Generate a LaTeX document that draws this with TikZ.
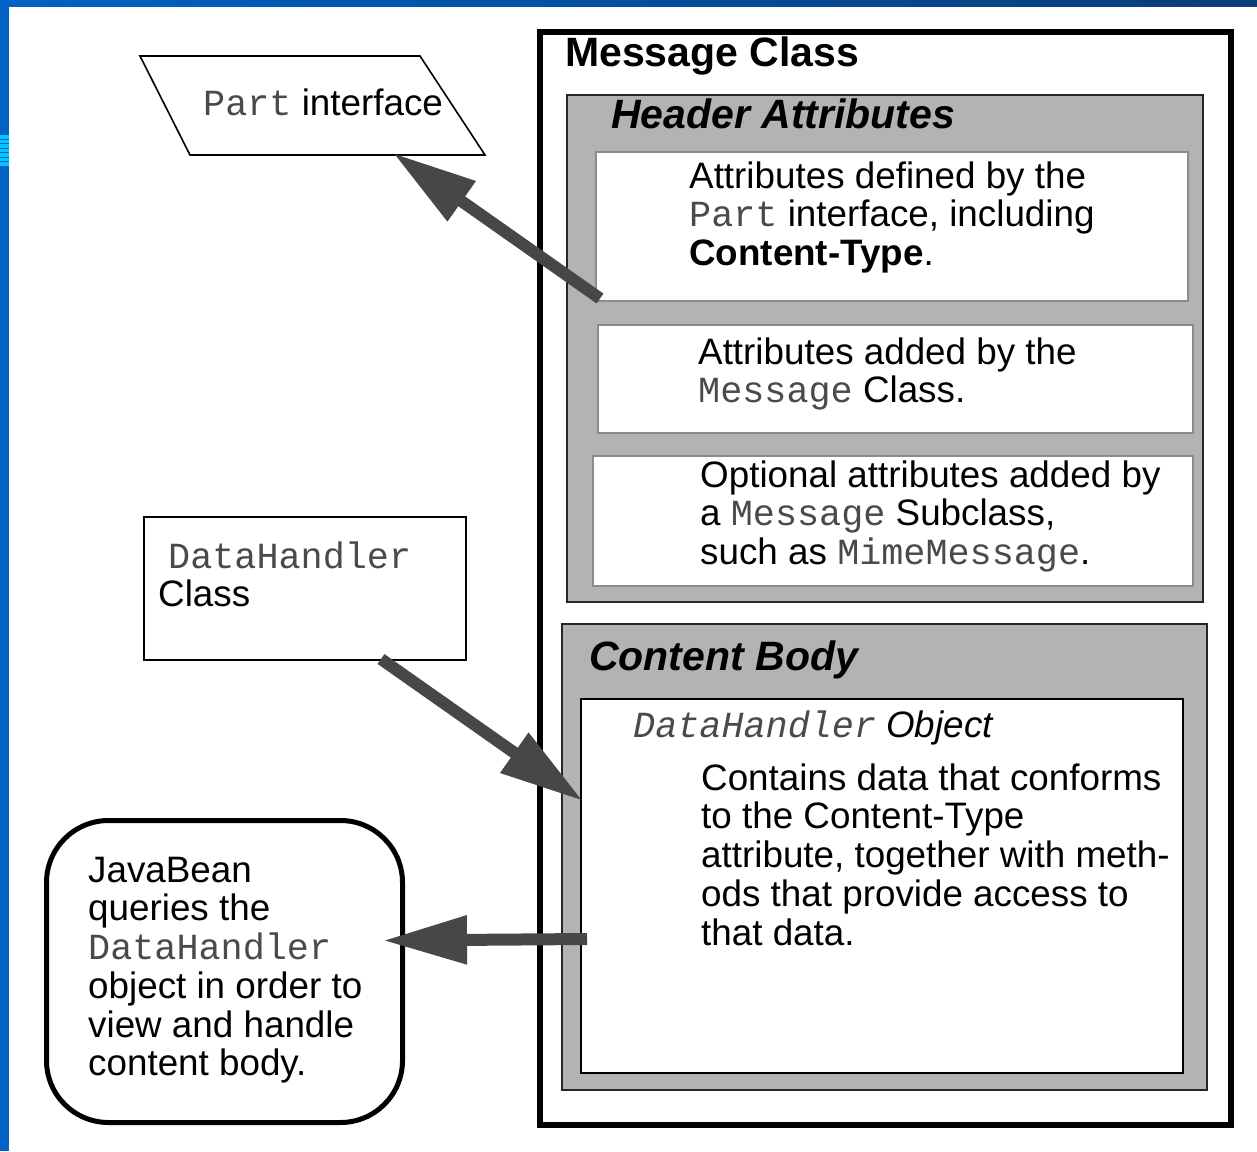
\documentclass[tikz,border=0pt]{standalone}
\usepackage{fontspec}
\setmainfont{Liberation Sans}
\setmonofont{Liberation Mono}
\usetikzlibrary{arrows.meta,calc}
\definecolor{bandL}{HTML}{0062C4}
\definecolor{bandR}{HTML}{0A3C78}
\definecolor{stripe}{HTML}{00C8FF}
\definecolor{boxgray}{HTML}{B3B3B3}
\definecolor{arrowgray}{HTML}{474747}
\definecolor{monogray}{HTML}{4A4A4A}
\definecolor{thinedge}{HTML}{8C8C8C}
\newcommand{\mono}[1]{{\ttfamily\color{monogray}#1}}
\tikzset{
  body/.style={font=\fontsize{36.8}{38.7}\selectfont, align=left, inner sep=0pt, anchor=north west},
  heading/.style={font=\fontsize{41}{45}\selectfont\bfseries, inner sep=0pt, anchor=base west},
  bigarrow/.style={draw=arrowgray, line width=12pt, -{Triangle[length=84pt,width=46pt]}, arrowgray},
  whitebox/.style={draw=thinedge, line width=1.5pt, fill=white},
  graybox/.style={draw=black!85, line width=2pt, fill=boxgray},
}
\begin{document}
\begin{tikzpicture}[x=1pt,y=-1pt]
\useasboundingbox (0,0) rectangle (1257,1151);
\fill[white] (0,0) rectangle (1257,1151);
% slide frame
\shade[left color=bandL, right color=bandR] (0,0) rectangle (1257,6);
\fill[bandL] (0,0) rectangle (9,1151);
\fill[stripe] (0,135) rectangle (9,167);
\foreach \yy in {138.5,142.5,147.5,152,157,161,165.5}
  \fill[bandL] (0,\yy) rectangle (9,\yy+1.2);

% Message class container
\draw[line width=5.5pt] (540,32) rectangle (1231,1125);
\node[heading] (title) at (565,66) {Message Class};

% header attributes
\draw[graybox] (567,95) rectangle (1203,602);
\node[heading, font=\fontsize{41}{45}\selectfont\bfseries\itshape] (hdr) at (611,128) {Header Attributes};
\node[whitebox, minimum width=592pt, minimum height=149pt, anchor=north west, inner sep=0pt] (b1) at (595,151) {};
\node[whitebox, minimum width=595pt, minimum height=108pt, anchor=north west, inner sep=0pt] (b2) at (597,324) {};
\node[whitebox, minimum width=600pt, minimum height=130pt, anchor=north west, inner sep=0pt] (b3) at (592,455) {};
\node[body] (t1) at (689,188-27.09) {\strut Attributes defined by the\\\mono{Part} interface, including\\\textbf{Content-Type}.};
\node[body] (t2) at (698,364-27.09) {\strut Attributes added by the\\\mono{Message} Class.};
\node[body] (t3) at (700,487-27.09) {\strut Optional attributes added by\\a \mono{Message} Subclass,\\such as \mono{MimeMessage}.};

% content body
\draw[graybox] (562,624) rectangle (1207,1090);
\node[heading, font=\fontsize{41}{45}\selectfont\bfseries\itshape] (cb) at (589,670) {Content Body};
\node[draw=black, line width=2pt, fill=white, minimum width=602pt, minimum height=374pt, anchor=north west, inner sep=0pt] (obj) at (580,698) {};
\node[body, anchor=base west] (objt) at (633,737) {\mono{\itshape DataHandler} \itshape Object};
\node[body] (t4) at (701,790-27.09) {\strut Contains data that conforms\\to the Content-Type\\attribute, together with meth-\\ods that provide access to\\that data.};

% Part interface parallelogram
\draw[line width=1.6pt] (140,56) coordinate (p1) -- (420,56) coordinate (p2) -- (485,155) coordinate (p3) -- (190,155) coordinate (p4) -- cycle;
\node[body] (part) at (203,115-27.09) {\strut\mono{Part} interface};
\coordinate (partin) at (393,153);

% DataHandler class box
\node[draw=black, line width=2pt, minimum width=322pt, minimum height=143pt, anchor=north west, inner sep=0pt] (dh) at (143,516) {};
\node[body] (dht) at (158,568-27.09) {\strut\hspace*{10pt}\mono{DataHandler}\\Class};

% JavaBean rounded box
\node[draw=black, line width=5pt, rounded corners=62pt, minimum width=356pt, minimum height=302pt, anchor=north west, inner sep=0pt] (jb) at (44,818) {};
\node[body] (jbt) at (88,882-27.09) {\strut JavaBean\\queries the\\\mono{DataHandler}\\object in order to\\view and handle\\content body.};

% connectors
\coordinate (a1s) at ($(b1.south west)+(5,-3)$);
\draw[bigarrow] (a1s) -- (partin);
\coordinate (a2s) at ($(dh.south west)+(238,-2)$);
\coordinate (a2e) at ($(obj.west)+(3,-85)$);
\draw[bigarrow] (a2s) -- (a2e);
\coordinate (a3s) at ($(obj.west)+(7,53)$);
\coordinate (a3e) at ($(jb.east)+(-22,-31)$);
\draw[bigarrow] (a3s) -- (a3e);
\end{tikzpicture}
\end{document}
